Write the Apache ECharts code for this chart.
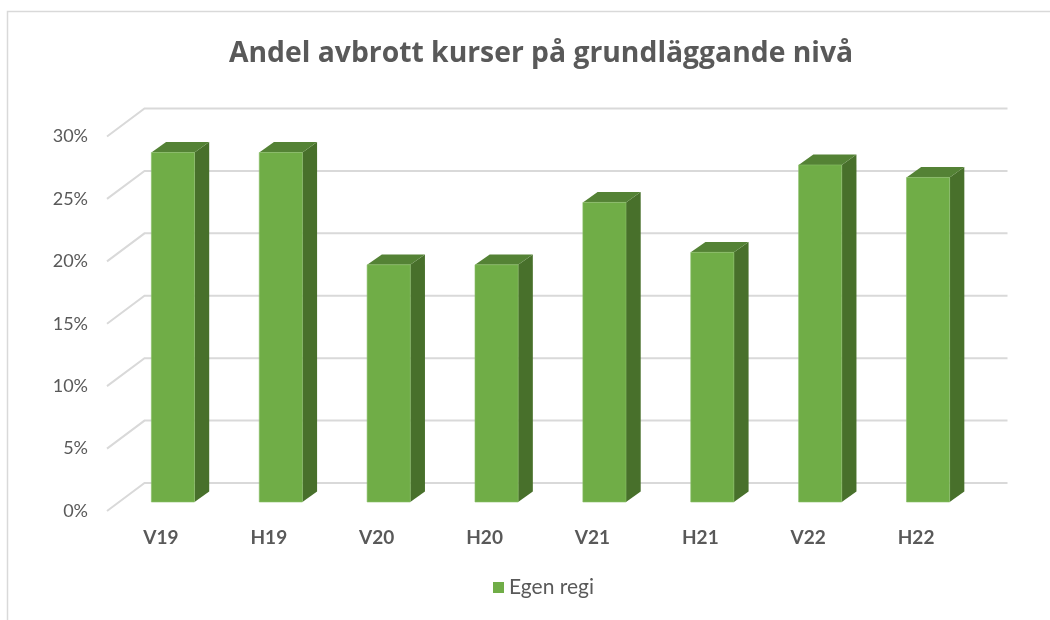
<!DOCTYPE html>
<html>
<head>
<meta charset="utf-8">
<script src="https://cdn.jsdelivr.net/npm/echarts@6/dist/echarts.min.js"></script>
<style>
  html, body { margin: 0; padding: 0; background: #fff; }
  #chart { width: 1050px; height: 620px; }
</style>
</head>
<body>
<div id="chart"></div>
<script>
const categories = ['V19', 'H19', 'V20', 'H20', 'V21', 'H21', 'V22', 'H22']
const egenRegi = [0.28, 0.28, 0.19, 0.19, 0.24, 0.20, 0.27, 0.26]
const yTicks = [0, 0.05, 0.10, 0.15, 0.20, 0.25, 0.30]

// 3d look: wall offset, bar front offset and bar depth (pixels)
const WALL = [37.5, -28]
const FRONT = [12, -9]
const DEPTH = [14.7, -10.4]
const FONT = 'Lato'

const chart = echarts.init(document.getElementById('chart'))

chart.setOption({
    animation: false,
    textStyle: { fontFamily: FONT },
    title: {
        text: 'Andel avbrott kurser på grundläggande nivå',
        left: 224,
        top: 35,
        textStyle: { fontSize: 28.3, fontWeight: 'bold', color: '#595959', fontFamily: 'Open Sans' }
    },
    legend: {
        bottom: 17,
        left: 488,
        icon: 'rect',
        itemWidth: 11,
        itemHeight: 11,
        itemGap: 6,
        data: ['Egen regi'],
        textStyle: { fontSize: 21, color: '#595959', fontFamily: FONT }
    },
    grid: { left: 107, right: 80, top: 136.5, bottom: 109 },
    xAxis: {
        type: 'category',
        data: categories,
        axisLine: { show: false },
        axisTick: { show: false },
        axisLabel: { fontSize: 19, fontWeight: 'bold', color: '#595959', margin: 17 }
    },
    yAxis: {
        type: 'value',
        min: 0,
        max: 0.3,
        interval: 0.05,
        axisLine: { show: false },
        axisTick: { show: false },
        splitLine: { show: false },
        axisLabel: {
            fontSize: 18,
            color: '#595959',
            margin: 19,
            formatter: v => Math.round(v * 100) + '%'
        }
    },
    graphic: [{
        type: 'rect',
        shape: { x: 7.5, y: 11.5, width: 1100, height: 700 },
        style: { fill: 'none', stroke: '#d9d9d9', lineWidth: 1.5 },
        silent: true
    }],
    series: [
        {
            name: 'grid',
            type: 'custom',
            silent: true,
            z: 1,
            data: yTicks.map(v => [0, v]),
            renderItem: (params, api) => {
                const cs = params.coordSys
                const y = api.coord([0, api.value(1)])[1]
                return {
                    type: 'polyline',
                    shape: {
                        points: [
                            [cs.x, y],
                            [cs.x + WALL[0], y + WALL[1]],
                            [cs.x + cs.width + WALL[0], y + WALL[1]]
                        ]
                    },
                    style: { stroke: '#d9d9d9', lineWidth: 2, fill: 'none' }
                }
            }
        },
        {
            name: 'Egen regi',
            type: 'custom',
            z: 2,
            itemStyle: { color: '#70AD47' },
            data: egenRegi.map((v, i) => [i, v]),
            renderItem: (params, api) => {
                const top = api.coord([api.value(0), api.value(1)])
                const base = api.coord([api.value(0), 0])
                const bw = api.size([1, 0])[0] * 0.4
                const xl = top[0] - bw / 2 + FRONT[0]
                const xr = xl + bw
                const yt = top[1] + FRONT[1]
                const yb = base[1] + FRONT[1]
                const dx = DEPTH[0], dy = DEPTH[1]
                return {
                    type: 'group',
                    children: [
                        {
                            type: 'polygon',
                            shape: { points: [[xr, yt], [xr + dx, yt + dy], [xr + dx, yb + dy], [xr, yb]] },
                            style: { fill: '#48702B' }
                        },
                        {
                            type: 'polygon',
                            shape: { points: [[xl, yt], [xl + dx, yt + dy], [xr + dx, yt + dy], [xr, yt]] },
                            style: { fill: '#548235' }
                        },
                        {
                            type: 'rect',
                            shape: { x: xl, y: yt, width: bw, height: yb - yt },
                            style: { fill: '#70AD47', stroke: '#8cc06a', lineWidth: 0.6 }
                        }
                    ]
                }
            }
        }
    ]
})
</script>
</body>
</html>
